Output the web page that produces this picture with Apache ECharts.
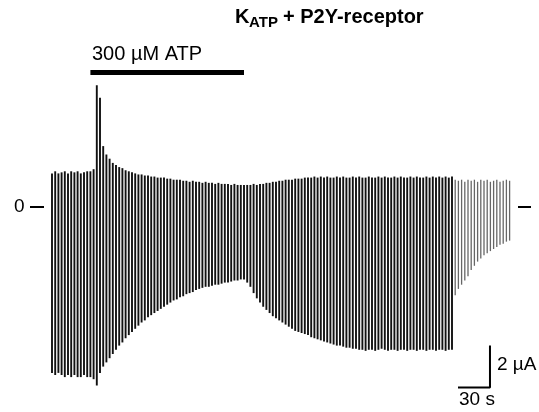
<!DOCTYPE html>
<html>
<head>
<meta charset="utf-8">
<script src="https://cdn.jsdelivr.net/npm/echarts@6/dist/echarts.min.js"></script>
<style>
  html, body { margin: 0; padding: 0; background: #fff; }
  #main { width: 539px; height: 412px; }
</style>
</head>
<body>
<div id="main"></div>
<script>
// sweep spacing (s)
var sweepInterval = 3;
// upper peak of every sweep (µA)
var upper = [
  1.6,1.7,1.6,1.65,1.7,1.6,1.7,1.65,1.7,1.6,1.65,1.7,1.7,1.8,
  5.8,5.2,
  2.9,2.5,2.3,2.1,2.0,1.9,1.85,1.75,1.7,1.65,1.6,1.55,1.55,1.5,1.5,1.45,1.45,1.4,1.4,1.4,1.35,1.35,1.3,1.3,1.3,
  1.25,1.25,1.2,1.25,1.2,1.2,1.15,1.2,1.15,1.15,
  1.1,1.15,1.1,1.1,1.1,1.05,1.1,1.05,1.05,1.05,
  1.05,1.05,1.1,1.05,1.1,1.1,1.15,1.15,1.2,1.2,
  1.25,1.25,1.3,1.3,1.3,1.35,1.35,1.35,1.4,1.4,
  1.4,1.45,1.4,1.45,1.4,1.45,1.4,1.4,1.45,1.4,
  1.45,1.4,1.4,1.45,1.4,1.45,1.4,1.4,1.45,1.4,
  1.4,1.45,1.4,1.45,1.4,1.4,1.45,1.4,1.45,1.4,
  1.4,1.45,1.4,1.45,1.4,1.4,1.45,1.4,1.45,1.4,
  1.45,1.4,1.45,1.4,1.45,
  1.3,1.25,1.3,1.2,1.3,1.25,1.3,1.2,1.3,1.25,
  1.3,1.2,1.25,1.3,1.2,1.25,1.3,1.25
];
// lower peak of every sweep (µA)
var lower = [
  -7.9,-8.0,-7.9,-8.0,-8.1,-8.0,-8.1,-8.0,-8.1,-8.1,-8.0,-8.1,-8.1,-8.2,
  -8.5,-7.9,-7.6,-7.4,-7.2,-7.0,-6.8,-6.6,-6.45,-6.25,-6.1,
  -5.95,-5.8,-5.65,-5.5,-5.4,-5.25,-5.15,-5.05,-4.95,-4.85,-4.75,-4.65,-4.55,-4.45,-4.4,-4.3,
  -4.25,-4.15,-4.1,-4.05,-3.95,-3.9,-3.85,-3.8,-3.8,-3.75,-3.7,-3.7,-3.65,-3.6,-3.6,-3.55,-3.5,-3.5,-3.45,-3.45,
  -3.6,-3.8,-4.1,-4.35,-4.55,-4.75,-4.9,-5.05,-5.2,-5.3,-5.4,-5.5,-5.6,-5.7,-5.8,-5.9,-5.95,-6.0,-6.05,-6.1,
  -6.2,-6.25,-6.3,-6.35,-6.4,-6.45,-6.5,-6.55,-6.6,-6.6,-6.65,-6.7,-6.7,-6.75,-6.75,-6.8,
  -6.8,-6.85,-6.8,-6.8,-6.85,-6.8,-6.75,-6.8,-6.85,-6.8,-6.8,-6.85,-6.8,-6.8,-6.85,
  -6.8,-6.8,-6.85,-6.8,-6.8,-6.85,-6.8,-6.8,-6.85,-6.8,-6.8,-6.85,-6.8,-6.8,
  -4.2,-3.9,-3.7,-3.5,-3.3,-3.0,-2.8,-2.6,-2.45,-2.3,-2.2,-2.1,-2.0,-1.9,-1.8,-1.75,-1.65,-1.6
];
// sweeps from here on are printed fainter
var faintFrom = 126;
// ATP application (s) and bar level (µA)
var atpOn = 36, atpOff = 180, atpLevel = 6.4;
// scale bar: 30 s x 2 µA
var scaleX = [380.6, 410.6], scaleY = [-8.6, -6.6];

var sweeps = [];
for (var i = 0; i < upper.length; i++) {
  sweeps.push([i * sweepInterval, upper[i], lower[i]]);
}

var font = 'Liberation Sans, Arial, Helvetica, sans-serif';
var myChart = echarts.init(document.getElementById('main'));

myChart.setOption({
  animation: false,
  grid: { left: 52, right: 29.4, top: 60, bottom: 16 },
  xAxis: { type: 'value', min: 0, max: 429, show: false },
  yAxis: { type: 'value', min: -9, max: 7, show: false },
  series: [
    {
      type: 'custom',
      clip: false,
      data: sweeps,
      encode: { x: 0, y: [1, 2] },
      renderItem: function (params, api) {
        var a = api.coord([api.value(0), api.value(1)]);
        var b = api.coord([api.value(0), api.value(2)]);
        var faint = params.dataIndex >= faintFrom;
        return {
          type: 'line',
          shape: { x1: a[0], y1: a[1], x2: b[0], y2: b[1] },
          style: { stroke: faint ? '#666' : '#111', lineWidth: faint ? 1.3 : 1.9 }
        };
      }
    },
    {
      // ATP bar
      type: 'line',
      symbol: 'none',
      data: [[atpOn, atpLevel], [atpOff, atpLevel]],
      lineStyle: { color: '#000', width: 5 }
    },
    {
      // scale bar
      type: 'line',
      symbol: 'none',
      data: [[scaleX[0], scaleY[0]], [scaleX[1], scaleY[0]], [scaleX[1], scaleY[1]]],
      lineStyle: { color: '#000', width: 2 }
    }
  ],
  graphic: [
    // title with subscript
    { type: 'text', left: 235, top: 7, style: { text: 'K', font: 'bold 20px ' + font, fill: '#000' } },
    { type: 'text', left: 249, top: 15, style: { text: 'ATP', font: 'bold 15px ' + font, fill: '#000' } },
    { type: 'text', left: 283, top: 7, style: { text: '+ P2Y-receptor', font: 'bold 20px ' + font, fill: '#000' } },
    { type: 'text', left: 92, top: 44, style: { text: '300 µM ATP', font: '20px ' + font, fill: '#000' } },
    // zero marks
    { type: 'text', left: 14, top: 197, style: { text: '0', font: '19px ' + font, fill: '#000' } },
    { type: 'line', shape: { x1: 30, y1: 207, x2: 44, y2: 207 }, style: { stroke: '#000', lineWidth: 2 } },
    { type: 'line', shape: { x1: 518, y1: 207, x2: 531, y2: 207 }, style: { stroke: '#000', lineWidth: 2 } },
    // scale bar labels
    { type: 'text', left: 497, top: 355, style: { text: '2 µA', font: '19px ' + font, fill: '#000' } },
    { type: 'text', left: 459, top: 390, style: { text: '30 s', font: '19px ' + font, fill: '#000' } }
  ]
});
</script>
</body>
</html>
